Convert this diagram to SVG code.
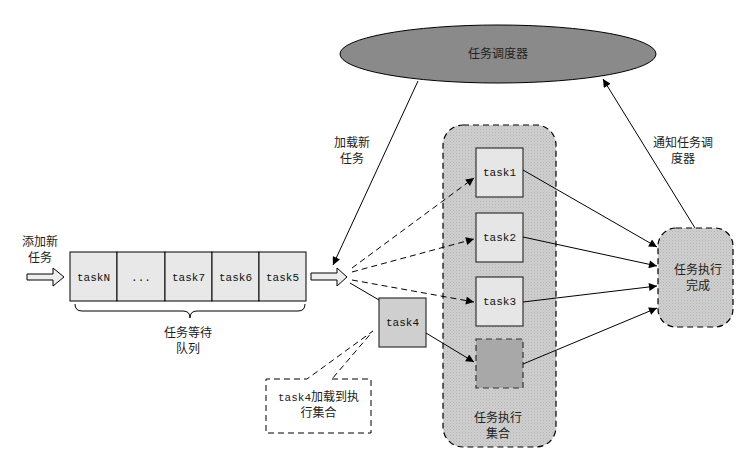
<svg xmlns="http://www.w3.org/2000/svg" width="748" height="452" viewBox="0 0 748 452">
<defs>
<pattern id="dots" width="3" height="3" patternUnits="userSpaceOnUse">
<rect width="3" height="3" fill="#cfcfcf"/>
<rect x="0" y="0" width="1" height="1" fill="#b4b4b4"/>
<rect x="1.5" y="1.5" width="1" height="1" fill="#bcbcbc"/>
</pattern>
<marker id="ah" viewBox="0 0 10 10" refX="10" refY="5" markerWidth="10" markerHeight="8" markerUnits="userSpaceOnUse" orient="auto">
<path d="M0,0 L10,5 L0,10 z" fill="#000"/>
</marker>
</defs>
<style>
.cjk{font-family:"Noto Sans CJK SC","Noto Sans CJK JP",sans-serif;font-size:12px;fill:#222;text-anchor:middle}
.mono{font-family:"Liberation Mono","DejaVu Sans Mono",monospace;font-size:11px;fill:#111;text-anchor:middle}
.cell{fill:#e8e8e8;stroke:#000;stroke-width:1}
.task{fill:#e6e6e6;stroke:#333;stroke-width:1.2}
.ln{stroke:#000;stroke-width:1;fill:none}
.dash{stroke:#000;stroke-width:1;fill:none;stroke-dasharray:6,4}
.blk{fill:#eeeeee;stroke:#000;stroke-width:1}
</style>
<rect width="748" height="452" fill="#fff"/>

<g id="scheduler">
<ellipse cx="498" cy="54" rx="158" ry="29" fill="#8a8a8a" stroke="#000" stroke-width="1"/>
<text class="cjk" x="498" y="58">任务调度器</text>
</g>

<g id="add-label">
<text class="cjk" x="40" y="246">添加新</text>
<text class="cjk" x="40" y="262">任务</text>
</g>

<g id="arrow-in">
<path class="blk" d="M27,274 L53,274 L53,268 L64,277 L53,286 L53,280 L27,280 z"/>
</g>

<g id="queue">
<rect class="cell" x="70" y="252" width="47" height="49"/>
<rect class="cell" x="117" y="252" width="48" height="49"/>
<rect class="cell" x="165" y="252" width="47" height="49"/>
<rect class="cell" x="212" y="252" width="47" height="49"/>
<rect class="cell" x="259" y="252" width="47" height="49"/>
<text class="mono" x="93.5" y="281">taskN</text>
<text class="mono" x="141" y="281">...</text>
<text class="mono" x="188.5" y="281">task7</text>
<text class="mono" x="235.5" y="281">task6</text>
<text class="mono" x="282.5" y="281">task5</text>
<path class="ln" d="M75,304 Q75,311 82,311 L183,311 Q190,311 190,318 Q190,311 197,311 L298,311 Q305,311 305,304"/>
<text class="cjk" x="188" y="337">任务等待</text>
<text class="cjk" x="188" y="353">队列</text>
</g>

<g id="arrow-out">
<path class="blk" d="M311,273 L337,273 L337,268 L347,277 L337,286 L337,280 L311,280 z"/>
</g>

<g id="exec-set">
<rect x="443" y="125" width="113" height="322" rx="20" ry="20" fill="url(#dots)" stroke="#000" stroke-width="1.2" stroke-dasharray="6,4"/>
<text class="cjk" x="498" y="422">任务执行</text>
<text class="cjk" x="498" y="438">集合</text>
</g>

<g id="task1">
<rect class="task" x="476" y="148" width="47" height="49"/>
<text class="mono" x="499.5" y="176">task1</text>
</g>
<g id="task2">
<rect class="task" x="476" y="213" width="47" height="49"/>
<text class="mono" x="499.5" y="241">task2</text>
</g>
<g id="task3">
<rect class="task" x="476" y="277" width="47" height="49"/>
<text class="mono" x="499.5" y="305">task3</text>
</g>
<g id="slot">
<rect x="476" y="339" width="47" height="49" fill="#a8a8a8" stroke="#333" stroke-width="1.2" stroke-dasharray="6,4"/>
</g>

<g id="task4">
<rect x="379" y="298" width="47" height="49" fill="#cfcfcf" stroke="#333" stroke-width="1.2"/>
<text class="mono" x="402.5" y="326">task4</text>
</g>

<g id="callout">
<path class="dash" d="M332,379 L371,379 L371,433 L266,433 L266,379 L307,379 L373,331 L332,379"/>
<text class="cjk" x="318.5" y="401"><tspan font-family="Liberation Mono, monospace" font-size="11">task4</tspan>加载到执</text>
<text class="cjk" x="318.5" y="417">行集合</text>
</g>

<g id="done">
<rect x="658" y="228" width="75" height="99" rx="18" ry="18" fill="url(#dots)" stroke="#000" stroke-width="1.2" stroke-dasharray="6,4"/>
<text class="cjk" x="698" y="274">任务执行</text>
<text class="cjk" x="698" y="290">完成</text>
</g>

<g id="labels">
<text class="cjk" x="352" y="147">加载新</text>
<text class="cjk" x="352" y="163">任务</text>
<text class="cjk" x="683" y="147">通知任务调</text>
<text class="cjk" x="683" y="163">度器</text>
</g>

<g id="connectors">
<line class="ln" x1="418" y1="81" x2="333" y2="265" marker-end="url(#ah)"/>
<line class="ln" x1="695" y1="228" x2="603" y2="79" marker-end="url(#ah)"/>
<line class="dash" x1="352" y1="268" x2="474" y2="178" marker-end="url(#ah)"/>
<line class="dash" x1="352" y1="272" x2="474" y2="239" marker-end="url(#ah)"/>
<line class="dash" x1="352" y1="280" x2="474" y2="302" marker-end="url(#ah)"/>
<line class="ln" x1="350" y1="283" x2="379" y2="300"/>
<line class="ln" x1="426" y1="333" x2="474" y2="362" marker-end="url(#ah)"/>
<line class="ln" x1="523" y1="170" x2="657" y2="247" marker-end="url(#ah)"/>
<line class="ln" x1="523" y1="237" x2="657" y2="266" marker-end="url(#ah)"/>
<line class="ln" x1="523" y1="302" x2="657" y2="286" marker-end="url(#ah)"/>
<line class="ln" x1="523" y1="364" x2="657" y2="308" marker-end="url(#ah)"/>
</g>
</svg>
